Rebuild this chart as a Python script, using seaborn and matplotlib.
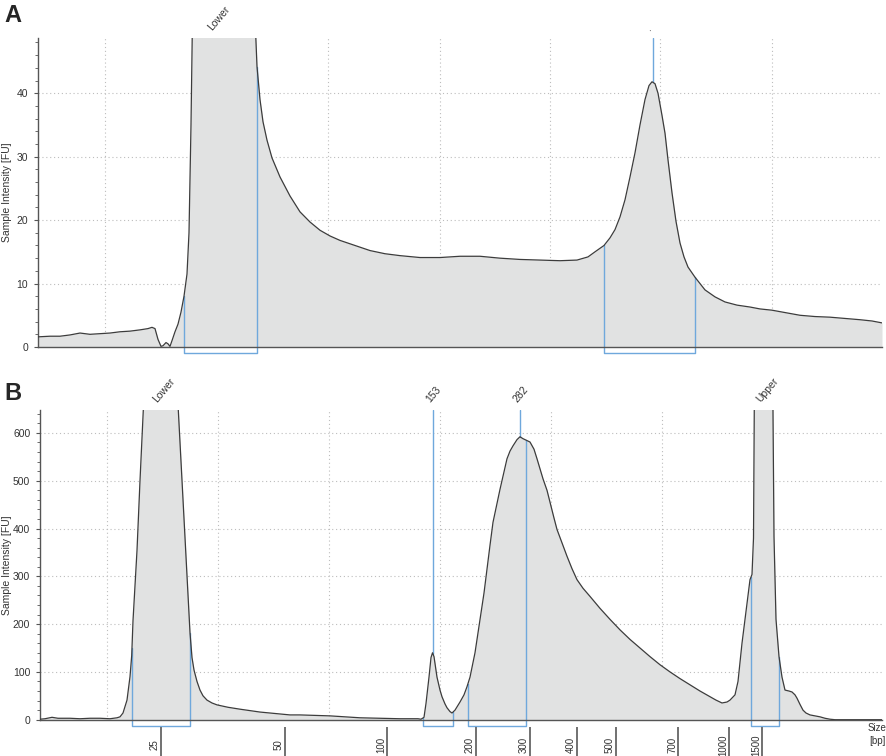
import numpy as np
import pandas as pd
import matplotlib
matplotlib.use("Agg")
import matplotlib.pyplot as plt
from matplotlib.ticker import MultipleLocator
import seaborn as sns

# ---- data (x = run position, y = FU) ----
time_a = [38, 50, 60, 70, 80, 90, 100, 110, 120, 130, 140, 148, 152, 155, 158, 161, 163, 166, 168, 170,
          172, 175, 178, 181, 184, 187, 189, 191, 192.5, 194, 254, 255.5, 257, 260, 263, 267, 272, 280,
          290, 300, 310, 320, 330, 340, 355, 370, 385, 400, 420, 440, 460, 480, 500, 520, 540, 560, 577,
          588, 595, 604, 610, 615, 620, 625, 630, 635, 640, 645, 649, 652, 655, 658, 662, 665, 668, 672,
          676, 680, 684, 688, 695, 705, 715, 725, 737, 750, 760, 772, 786, 800, 815, 830, 845, 860, 872, 882]
fu_a = [1.6, 1.7, 1.7, 1.9, 2.2, 2.0, 2.1, 2.2, 2.4, 2.5, 2.7, 2.9, 3.1, 2.9, 1.2, 0.1, 0.2, 0.7, 0.5, 0.1,
        1.0, 2.4, 3.6, 5.5, 8.0, 11.5, 18, 35, 52, 60, 60, 50, 44.2, 39, 35.5, 32.6, 29.8, 26.8,
        23.8, 21.3, 19.7, 18.4, 17.5, 16.8, 16.0, 15.2, 14.7, 14.4, 14.1, 14.1, 14.3, 14.3, 14.0, 13.8, 13.7, 13.6, 13.7,
        14.2, 15.0, 16.0, 17.2, 18.5, 20.5, 23.2, 26.8, 30.6, 35.0, 39.0, 41.2, 41.8, 41.5, 40.0, 36.5, 33.7, 29.5, 24.3,
        19.8, 16.4, 14.2, 12.6, 11.0, 9.0, 7.9, 7.1, 6.6, 6.3, 6.0, 5.8, 5.4, 5.0, 4.8, 4.7, 4.5, 4.3, 4.1, 3.8]

time_b = [40, 45, 52, 58, 70, 80, 90, 100, 110, 117, 120, 123, 127, 130, 131.7, 133, 137, 140, 143.3, 145,
          176.5, 178.3, 181, 184, 187, 190, 192, 194, 197, 200, 203, 207, 212, 217, 228, 240, 250, 260, 275, 290,
          300, 315, 330, 345, 360, 380, 400, 418, 421, 424, 426, 429, 431, 432.5, 434, 437, 440, 442, 445,
          447, 450, 452, 455, 460, 464, 467, 470, 475, 480, 484, 487, 490, 493, 497, 500, 504, 507, 510,
          513, 517, 520, 523, 526, 530, 534, 537, 540, 543, 547, 550, 554, 557, 562, 567, 572, 577, 583,
          590, 600, 610, 620, 630, 640, 650, 660, 670, 680, 690, 700, 710, 716, 722, 727, 730, 735, 738,
          740, 742, 745, 748, 750, 752, 753.5, 755, 772, 773.5, 774, 776, 779, 782, 785, 789, 792, 795,
          797, 800, 803, 806, 810, 815, 820, 825, 830, 835, 882]
fu_b = [1, 2, 5, 3, 3, 2, 3, 3, 2, 4, 6, 14, 41, 90, 134, 207, 354, 500, 648, 730,
        730, 648, 541, 421, 301, 182, 130, 104, 80, 62, 50, 41, 35, 31, 26, 22, 19, 16, 13, 10,
        10, 9, 8, 6, 4, 3, 2, 2, 1, 5, 34, 89, 130, 140, 132, 89, 62, 48, 33,
        25, 17, 14, 20, 37, 52, 69, 89, 140, 210, 265, 315, 365, 413, 452, 482, 518, 546, 562,
        573, 586, 592, 588, 585, 581, 566, 546, 525, 504, 480, 455, 422, 398, 370, 342, 316, 293, 275,
        258, 233, 210, 188, 168, 150, 132, 115, 100, 86, 73, 60, 48, 41, 35, 37, 41, 52, 80,
        119, 160, 210, 260, 293, 304, 380, 900, 900, 500, 383, 210, 132, 89, 62, 60, 58, 52,
        45, 32, 20, 14, 10, 8, 6, 3, 1, 0, 0]

# peak markers and integration brackets
marks_a = ["Lower", "."]
mark_pos_a = [215, 653]
brackets_a = [(184, 257), (604, 695)]

marks_b = ["Lower", "153", "282", "Upper"]
mark_pos_b = [160, 433, 520, 763]
brackets_b = [(132, 190), (423, 453), (468, 526), (751, 779)]

# size ladder ticks (bp) on panel B
bp_labels = ["25", "50", "100", "200", "300", "400", "500", "700", "1000", "1500"]
bp_pos = [161, 285, 387, 476, 530, 577, 616, 678, 729, 762]

grid_x_a = [105, 215, 328, 440, 550, 660, 772]
grid_x_b = [107, 218, 329, 440, 551, 662, 772]

sns.set_theme(style="white")
plt.rcParams['font.family'] = ['Liberation Sans', 'DejaVu Sans']

FILL = "#e1e2e2"
LINE = "#3c3c3c"
BLUE = "#6fa8dc"
GRID = "#bdbdbd"

fig = plt.figure(figsize=(8.86, 7.56), dpi=100)
ax_a = fig.add_axes([38 / 886, 1 - 347 / 756, 844 / 886, 309 / 756])
ax_b = fig.add_axes([40 / 886, 1 - 719.7 / 756, 842 / 886, 309.7 / 756])


def draw_panel(ax, t, fu, ylim, major, minor, gridx, marks, mpos, brackets, peak_lines, br_low, label_x):
    df = pd.DataFrame({"time": t, "fu": fu})
    ax.fill_between(df["time"], 0, df["fu"], color=FILL, lw=0, zorder=1)
    sns.lineplot(data=df, x="time", y="fu", ax=ax, color=LINE, lw=0.9, zorder=3, sort=False)
    ax.set_xlim(t[0], 882)
    ax.set_ylim(*ylim)
    for gx in gridx:
        ax.axvline(gx, color=GRID, lw=0.8, ls=(0, (1, 2.5)), zorder=0.5)
    for gy in np.arange(major, ylim[1], major):
        ax.axhline(gy, color=GRID, lw=0.8, ls=(0, (1, 2.5)), zorder=0.5)
    ax.yaxis.set_major_locator(MultipleLocator(major))
    ax.yaxis.set_minor_locator(MultipleLocator(minor))
    ax.set_xticks([])
    ax.tick_params(axis="y", which="major", direction="out", length=3, width=0.8,
                   color="#555555", labelsize=7.5, labelcolor="#333333", pad=4, left=True)
    ax.tick_params(axis="y", which="minor", direction="out", length=2, width=0.6,
                   color="#555555", left=True)
    ax.set_xlabel("")
    ax.set_ylabel("Sample Intensity [FU]", fontsize=7.5, color="#333333")
    ax.yaxis.set_label_coords(label_x, 0.5)
    for s in ["top", "right"]:
        ax.spines[s].set_visible(False)
    for s in ["left", "bottom"]:
        ax.spines[s].set_color("#555555")
        ax.spines[s].set_linewidth(1.0)
    ax.spines["bottom"].set_zorder(4)
    # brackets
    for x0, x1 in brackets:
        y0 = np.interp(x0, t, fu)
        y1 = np.interp(x1, t, fu)
        ax.plot([x0, x0, x1, x1], [min(y0, ylim[1]), br_low, br_low, min(y1, ylim[1])],
                color=BLUE, lw=1.0, clip_on=False, zorder=2)
    # peak lines up to the top
    for xp in peak_lines:
        yp = np.interp(xp, t, fu)
        ax.plot([xp, xp], [yp, ylim[1]], color=BLUE, lw=1.0, zorder=2)
    # marker labels
    for lab, xp in zip(marks, mpos):
        ax.text(xp - 1, ylim[1] * 1.02, lab, rotation=50, rotation_mode="anchor",
                ha="left", va="bottom", fontsize=7.5, color="#333333",
                transform=ax.transData, clip_on=False)


draw_panel(ax_a, time_a, fu_a, (0, 48.7), 10, 2, grid_x_a, marks_a, mark_pos_a,
           brackets_a, [653], -0.95, -0.031)
draw_panel(ax_b, time_b, fu_b, (0, 648), 100, 20, grid_x_b, marks_b, mark_pos_b,
           brackets_b, [433, 520], -13, -0.033)

# bp ladder ticks on B
xform = ax_b.get_xaxis_transform()
ax_b.vlines(bp_pos, -0.024, -0.125, transform=xform, color="#666666", lw=1.3, clip_on=False)
for lab, p in zip(bp_labels, bp_pos):
    ax_b.text(p - 6, -0.082, lab, transform=xform, rotation=90, ha="center", va="center",
              fontsize=7, color="#333333", clip_on=False)
ax_b.text(0.994, -0.012, "Size\n[bp]", transform=ax_b.transAxes, ha="center", va="top",
          fontsize=7, color="#333333", linespacing=1.3, clip_on=False)

fig.text(4 / 886, 1 - 15 / 756, "A", fontsize=17, fontweight="bold", va="center", ha="left")
fig.text(4 / 886, 1 - 393 / 756, "B", fontsize=17, fontweight="bold", va="center", ha="left")

fig.savefig("out.png", dpi=100)
